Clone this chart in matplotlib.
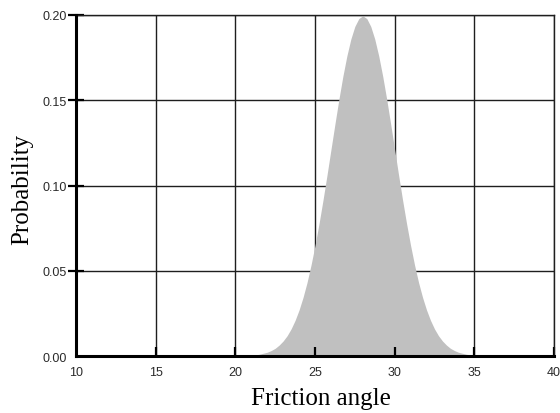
import matplotlib.pyplot as plt

# friction angle (deg) vs probability density
angle = [20.0, 20.5, 21.0, 21.5, 22.0, 22.25, 22.5, 22.75, 23.0, 23.25, 23.5,
         23.75, 24.0, 24.25, 24.5, 24.75, 25.0, 25.25, 25.5, 25.75, 26.0,
         26.25, 26.5, 26.75, 27.0, 27.25, 27.5, 27.75, 28.0, 28.25, 28.5,
         28.75, 29.0, 29.25, 29.5, 29.75, 30.0, 30.25, 30.5, 30.75, 31.0,
         31.25, 31.5, 31.75, 32.0, 32.25, 32.5, 32.75, 33.0, 33.25, 33.5,
         33.75, 34.0, 34.5, 35.0, 35.5, 36.0]
prob = [0.0001, 0.0002, 0.0004, 0.0010, 0.0022, 0.0032, 0.0045, 0.0064, 0.0088,
        0.0119, 0.0159, 0.0209, 0.0270, 0.0344, 0.0431, 0.0533, 0.0648, 0.0775,
        0.0913, 0.1059, 0.1210, 0.1360, 0.1506, 0.1641, 0.1760, 0.1859, 0.1933,
        0.1979, 0.1995, 0.1979, 0.1933, 0.1859, 0.1760, 0.1641, 0.1506, 0.1360,
        0.1210, 0.1059, 0.0913, 0.0775, 0.0648, 0.0533, 0.0431, 0.0344, 0.0270,
        0.0209, 0.0159, 0.0119, 0.0088, 0.0064, 0.0045, 0.0032, 0.0022, 0.0010,
        0.0004, 0.0002, 0.0001]

x_ticks = [10, 15, 20, 25, 30, 35, 40]
y_ticks = [0.00, 0.05, 0.10, 0.15, 0.20]
y_tick_labels = ["0.00", "0.05", "0.10", "0.15", "0.20"]

fig = plt.figure(figsize=(5.6, 4.14), dpi=100)
ax = fig.add_axes([76 / 560, 1 - 357 / 414, 478 / 560, 341 / 414])

# grid drawn by hand so it sits under the fill while ticks stay on top
ax.vlines(x_ticks, 0, 1, transform=ax.get_xaxis_transform(),
          colors="#1e1e1e", linewidth=1.0, zorder=0.5)
ax.hlines(y_ticks, 0, 1, transform=ax.get_yaxis_transform(),
          colors="#1e1e1e", linewidth=1.0, zorder=0.5)

ax.fill_between(angle, prob, 0, color="#c0c0c0", linewidth=0, zorder=1)

ax.set_xlim(x_ticks[0], x_ticks[-1])
ax.set_ylim(y_ticks[0], y_ticks[-1])
ax.set_xticks(x_ticks)
ax.set_yticks(y_ticks)
ax.set_yticklabels(y_tick_labels)

for side in ("left", "bottom"):
    ax.spines[side].set_linewidth(2.2)
    ax.spines[side].set_color("black")
    ax.spines[side].set_zorder(3)
for side in ("top", "right"):
    ax.spines[side].set_linewidth(1.0)
    ax.spines[side].set_color("#1e1e1e")

ax.tick_params(axis="y", direction="inout", length=11.5, width=1.6,
               color="black", pad=1, labelsize=9, labelcolor="#2a2a2a")
ax.tick_params(axis="x", direction="in", length=6.5, width=1.6,
               color="black", pad=7, labelsize=9, labelcolor="#2a2a2a")
for lab in ax.get_xticklabels() + ax.get_yticklabels():
    lab.set_fontfamily("Liberation Sans")
ax.xaxis.get_major_ticks()[0].tick1line.set_visible(False)
ax.yaxis.get_major_ticks()[0].tick1line.set_visible(False)

ax.set_xlabel("Friction angle", family="Liberation Serif", fontsize=18)
ax.set_ylabel("Probability", family="Liberation Serif", fontsize=18)
ax.xaxis.set_label_coords(0.5126, -0.091)
ax.yaxis.set_label_coords(-0.090, 0.49)

fig.savefig("out.png", dpi=100)
